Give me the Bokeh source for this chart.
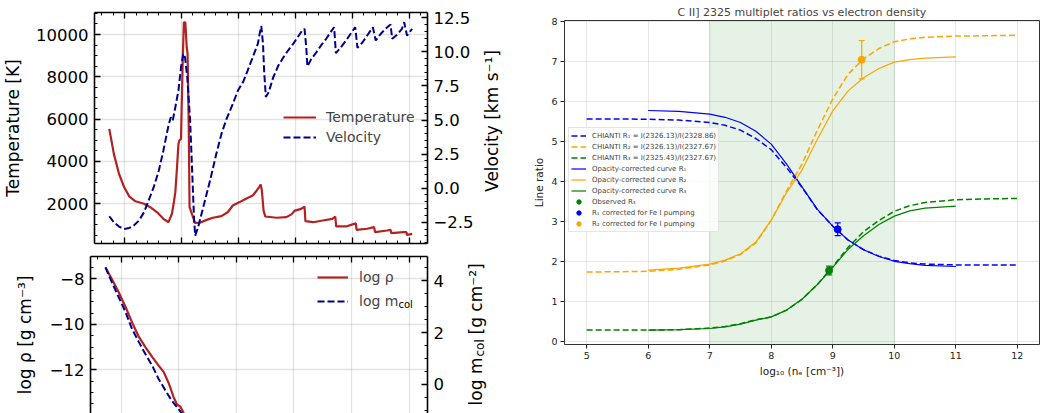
import math
from bokeh.plotting import figure
from bokeh.layouts import row, column
from bokeh.models import (Range1d, LinearAxis, Legend, LegendItem, SingleIntervalTicker,
                          CustomJSTickFormatter, BoxAnnotation, Whisker, TeeHead,
                          ColumnDataSource, Label)
from bokeh.embed import file_html
from bokeh.resources import INLINE

FONT = "DejaVu Sans"

# ---------------- left panels: atmosphere structure ----------------
temp_x = [-0.27, -0.19, -0.10, -0.01, 0.08, 0.19, 0.34, 0.45, 0.57, 0.68, 0.77, 0.83, 0.86, 0.89,
          0.92, 0.945, 0.96, 0.99, 1.00, 1.02, 1.04, 1.065, 1.09, 1.105, 1.125, 1.14, 1.18, 1.235,
          1.32, 1.44, 1.55, 1.70, 1.81, 1.90, 2.02, 2.13, 2.25, 2.32, 2.36, 2.39, 2.41, 2.44, 2.47,
          2.67, 2.84, 2.93, 2.99, 3.10, 3.16, 3.175, 3.31, 3.48, 3.65, 3.70, 3.715, 3.89, 4.03,
          4.06, 4.075, 4.26, 4.38, 4.40, 4.61, 4.67, 4.685, 4.90, 4.95, 4.96, 5.05]
temp_K = [5540, 4360, 3420, 2790, 2350, 2120, 2000, 1840, 1600, 1290, 1130, 1530, 2000, 2550,
          3730, 4830, 4990, 5070, 6410, 8770, 10580, 10580, 9400, 9090, 5780, 1840, 1530, 1100,
          1100, 1240, 1340, 1420, 1600, 1920, 2080, 2240, 2390, 2630, 2780, 2910, 2630, 1680, 1400,
          1340, 1370, 1500, 1680, 1760, 1870, 1180, 1130, 1210, 1290, 1400, 930, 930, 1050,
          1085, 770, 820, 900, 660, 740, 770, 610, 660, 660, 530, 580]

vel_x = [-0.27, -0.19, -0.10, -0.01, 0.08, 0.16, 0.25, 0.34, 0.42, 0.51, 0.60, 0.68, 0.77, 0.81,
         0.845, 0.89, 0.945, 0.99, 1.03, 1.06, 1.10, 1.15, 1.19, 1.22, 1.24, 1.29, 1.38, 1.50,
         1.61, 1.70, 1.79, 1.90, 1.99, 2.08, 2.16, 2.25, 2.34, 2.37, 2.40, 2.43, 2.45, 2.48, 2.53,
         2.61, 2.70, 2.79, 2.87, 2.96, 3.02, 3.08, 3.12, 3.16, 3.19, 3.21, 3.28, 3.37, 3.45, 3.54,
         3.63, 3.68, 3.71, 3.80, 3.89, 3.97, 4.05, 4.09, 4.18, 4.26, 4.36, 4.41, 4.50, 4.58, 4.67,
         4.70, 4.79, 4.87, 4.91, 4.96, 5.05]
vel_kms = [-2.06, -2.50, -2.82, -2.99, -2.92, -2.74, -2.38, -1.77, -0.91, 0.07, 1.29, 2.76, 4.60,
           5.21, 4.97, 5.94, 7.17, 8.88, 9.86, 9.61, 8.14, 4.96, 0.80, -2.38, -3.48, -2.87, -1.40,
           0.56, 2.52, 3.98, 5.09, 6.19, 7.17, 7.78, 8.63, 9.61, 10.60, 11.30, 11.90, 10.60, 8.60,
           6.70, 7.04, 8.14, 9.00, 9.61, 10.10, 10.59, 10.96, 11.33, 11.57, 11.69, 10.35, 8.93,
           9.49, 9.98, 10.47, 10.96, 11.52, 11.81, 9.91, 10.35, 10.84, 11.33, 11.81, 10.30, 10.71,
           11.20, 11.81, 10.84, 11.33, 11.69, 12.01, 10.96, 11.28, 11.69, 12.18, 11.20, 11.69]

rho_x = [-0.27, -0.16, -0.04, 0.08, 0.19, 0.31, 0.42, 0.54, 0.65, 0.74, 0.83, 0.91, 0.97, 1.03, 1.09]
log_rho = [-7.49, -8.00, -8.58, -9.24, -9.90, -10.55, -10.99, -11.43, -11.80, -12.09, -12.60,
           -13.18, -13.52, -13.62, -13.91]
mcol_x = [-0.27, -0.16, -0.04, 0.08, 0.19, 0.31, 0.42, 0.54, 0.65, 0.77, 0.88, 0.97, 1.06]
log_mcol = [4.51, 3.94, 3.36, 2.78, 2.14, 1.63, 1.18, 0.73, 0.22, -0.23, -0.62, -0.87, -1.13]

# ---------------- right panel: C II] ratios ----------------
ne_chianti = [5.0, 5.5, 6.0, 6.5, 7.0, 7.25, 7.5, 7.75, 8.0, 8.25, 8.5, 8.75, 9.0, 9.25, 9.5,
              9.75, 10.0, 10.25, 10.5, 11.0, 11.5, 12.0]
r1_chianti = [5.56, 5.56, 5.55, 5.53, 5.47, 5.40, 5.28, 5.07, 4.79, 4.34, 3.85, 3.29, 2.88, 2.53,
              2.29, 2.13, 2.02, 1.96, 1.93, 1.91, 1.91, 1.91]
r2_chianti = [1.73, 1.74, 1.75, 1.80, 1.91, 2.01, 2.17, 2.46, 3.03, 3.76, 4.43, 5.28, 6.06, 6.68,
              7.06, 7.32, 7.49, 7.56, 7.60, 7.63, 7.64, 7.65]
r3_chianti = [0.28, 0.28, 0.28, 0.29, 0.33, 0.37, 0.44, 0.54, 0.61, 0.78, 1.05, 1.42, 1.87, 2.35,
              2.74, 3.02, 3.25, 3.39, 3.47, 3.54, 3.56, 3.57]

ne_corr = [6.0, 6.5, 7.0, 7.25, 7.5, 7.75, 8.0, 8.25, 8.5, 8.75, 9.0, 9.25, 9.5, 9.75, 10.0,
           10.25, 10.5, 11.0]
r1_corr = [5.77, 5.75, 5.68, 5.60, 5.47, 5.25, 4.93, 4.43, 3.86, 3.30, 2.88, 2.53, 2.29, 2.12,
           2.00, 1.94, 1.90, 1.87]
r2_corr = [1.78, 1.83, 1.93, 2.03, 2.19, 2.48, 3.03, 3.72, 4.28, 5.05, 5.76, 6.26, 6.59, 6.82,
           6.98, 7.04, 7.08, 7.11]
r3_corr = [0.28, 0.29, 0.32, 0.36, 0.43, 0.53, 0.61, 0.78, 1.05, 1.42, 1.85, 2.30, 2.64, 2.92,
           3.13, 3.26, 3.33, 3.38]

obs_names = ["Observed R₃", "R₁ corrected for Fe I pumping", "R₂ corrected for Fe I pumping"]
obs_ne = [8.94, 9.08, 9.47]
obs_ratio = [1.77, 2.80, 7.04]
obs_err = [0.11, 0.16, 0.48]
obs_colors = ["green", "blue", "orange"]

chianti_names = ["CHIANTI R₁ = I(2326.13)/I(2328.86)",
                 "CHIANTI R₂ = I(2326.13)/I(2327.67)",
                 "CHIANTI R₃ = I(2325.43)/I(2327.67)"]
corr_names = ["Opacity-corrected curve R₁", "Opacity-corrected curve R₂", "Opacity-corrected curve R₃"]

x_grid_step = 1
density_band = (7, 10)

MINUS_FMT0 = CustomJSTickFormatter(code=r"return tick.toFixed(0).replace('-', '\u2212');")
MINUS_FMT1 = CustomJSTickFormatter(code=r"return tick.toFixed(1).replace('-', '\u2212');")


def style_in(ax, interval, minor):
    t = SingleIntervalTicker(interval=interval, num_minor_ticks=minor)
    ax.ticker = t
    ax.major_tick_in = 6
    ax.major_tick_out = 0
    ax.minor_tick_in = 3
    ax.minor_tick_out = 0
    ax.axis_line_color = "black"
    ax.axis_line_width = 1.6
    ax.major_tick_line_color = "black"
    ax.major_tick_line_width = 1.3
    ax.minor_tick_line_color = "black"
    ax.minor_tick_line_width = 1
    ax.major_label_text_font = FONT
    ax.major_label_text_font_size = "16.5px"
    ax.major_label_text_color = "black"
    ax.major_label_standoff = 6
    ax.axis_label_text_font = FONT
    ax.axis_label_text_font_size = "17px"
    ax.axis_label_text_font_style = "normal"
    ax.axis_label_text_color = "black"
    return t


def hide_labels(ax):
    ax.formatter = CustomJSTickFormatter(code="return '';")
    ax.major_label_text_font_size = "1px"
    ax.major_label_standoff = 0


def label_strip(width, height):
    """Blank strip figure whose frame fills the canvas; holds a rotated axis title."""
    f = figure(width=width, height=height, x_range=Range1d(0, 1), y_range=Range1d(0, 1),
               x_axis_location=None, y_axis_location=None, output_backend="svg",
               toolbar_location=None, min_border_left=0, min_border_right=0,
               min_border_top=0, min_border_bottom=0)
    f.outline_line_color = None
    f.xgrid.visible = False
    f.ygrid.visible = False
    return f


def vlabel(p, x, y, text, size="17px", align="center"):
    """Rotated (bottom-to-top) text; x, y in px from the frame's bottom-left corner."""
    p.add_layout(Label(x=x, y=y, x_units="screen", y_units="screen", text=text,
                       angle=math.pi / 2, text_align=align, text_baseline="middle",
                       text_font=FONT, text_font_size=size, text_color="black"))


def grid_style(p):
    for g in (p.xgrid, p.ygrid):
        g.grid_line_color = "#b0b0b0"
        g.grid_line_alpha = 0.35
        g.grid_line_width = 1.3


# ---------- top-left ----------
p1 = figure(width=477, height=250, x_range=Range1d(-0.53, 5.32), y_range=Range1d(124, 11040),
            output_backend="svg", toolbar_location=None,
            min_border_left=90, min_border_right=50, min_border_top=12, min_border_bottom=7)
p1.outline_line_color = None
p1.extra_y_ranges = {"vel": Range1d(-4.06, 12.89)}

tx = style_in(p1.xaxis[0], x_grid_step, 5)
hide_labels(p1.xaxis[0])
ax_top = LinearAxis()
style_in(ax_top, x_grid_step, 5)
hide_labels(ax_top)
p1.add_layout(ax_top, "above")

ty = style_in(p1.yaxis[0], 2000, 4)
p1.yaxis[0].formatter = CustomJSTickFormatter(code="return tick.toFixed(0);")
p1.yaxis[0].axis_label = "Temperature [K]"
p1.yaxis[0].axis_label_standoff = 10

ax_v = LinearAxis(y_range_name="vel")
style_in(ax_v, 2.5, 5)
ax_v.formatter = MINUS_FMT1
p1.add_layout(ax_v, "right")

grid_style(p1)
p1.xgrid.ticker = tx
p1.ygrid.ticker = ty

r_t = p1.line(temp_x, temp_K, line_color="#b22222", line_width=2.2)
r_v = p1.line(vel_x, vel_kms, y_range_name="vel", line_color="#00008b", line_width=2,
              line_dash="7 3")
leg1 = Legend(items=[LegendItem(label="Temperature", renderers=[r_t]),
                     LegendItem(label="Velocity", renderers=[r_v])],
              location=(189, 96), label_text_font=FONT, label_text_font_size="14px",
              glyph_width=33, glyph_height=20, label_height=20, label_standoff=10,
              padding=0, spacing=0, margin=0, border_line_color=None,
              background_fill_alpha=0)
p1.add_layout(leg1)

lab1 = label_strip(53, 250)
vlabel(lab1, 14.5, 122.5, "Velocity [km s⁻¹]")

# ---------- bottom-left ----------
p2 = figure(width=457, height=163, x_range=p1.x_range, y_range=Range1d(-13.92, -7.01),
            x_axis_location="above", output_backend="svg", toolbar_location=None,
            min_border_left=90, min_border_right=30, min_border_top=6, min_border_bottom=0)
p2.outline_line_color = None
p2.extra_y_ranges = {"m": Range1d(-1.12, 4.93)}

tx2 = style_in(p2.xaxis[0], x_grid_step, 5)
hide_labels(p2.xaxis[0])
ty2 = style_in(p2.yaxis[0], 2, 4)
p2.yaxis[0].formatter = MINUS_FMT0
p2.yaxis[0].axis_label = "log ρ [g cm⁻³]"
p2.yaxis[0].axis_label_standoff = 12

ax_m = LinearAxis(y_range_name="m")
style_in(ax_m, 2, 4)
ax_m.formatter = MINUS_FMT0
p2.add_layout(ax_m, "right")

grid_style(p2)
p2.xgrid.ticker = tx2
p2.ygrid.ticker = ty2

r_rho = p2.line(rho_x, log_rho, line_color="#b22222", line_width=2.2)
r_m = p2.line(mcol_x, log_mcol, y_range_name="m", line_color="#00008b", line_width=2,
              line_dash="7 3")
leg2 = Legend(items=[LegendItem(label="log ρ", renderers=[r_rho]),
                     LegendItem(label="log m", renderers=[r_m])],
              location=(227, 100), label_text_font=FONT, label_text_font_size="14px",
              glyph_width=31, glyph_height=24, label_height=24, label_standoff=11,
              padding=0, spacing=0, margin=0, border_line_color=None,
              background_fill_alpha=0)
p2.add_layout(leg2)
p2.add_layout(Label(x=308, y=104, x_units="screen", y_units="screen", text="col",
                    text_font=FONT, text_font_size="10px", text_color="black"))

lab2 = label_strip(73, 163)
# "log m_col [g cm^-2]" built from three rotated pieces (subscript "col")
vlabel(lab2, 18, 56, "log m", align="right")
vlabel(lab2, 22, 57, "col", size="12px", align="left")
vlabel(lab2, 18, 79, "[g cm⁻²]", align="left")

# ---------- right ----------
p3 = figure(width=516, height=413, x_range=Range1d(4.64, 12.36), y_range=Range1d(-0.08, 8.02),
            output_backend="svg", toolbar_location=None,
            min_border_left=31, min_border_right=7, min_border_top=20, min_border_bottom=69,
            title="C II] 2325 multiplet ratios vs electron density")
p3.title.align = "center"
p3.title.text_font = FONT
p3.title.text_font_size = "11px"
p3.title.text_font_style = "normal"
p3.title.standoff = 4
p3.outline_line_color = "#333333"
p3.outline_line_width = 1
p3.outline_line_alpha = 1

for ax in (p3.xaxis[0], p3.yaxis[0]):
    t = SingleIntervalTicker(interval=1, num_minor_ticks=0)
    ax.ticker = t
    ax.major_tick_out = 4
    ax.major_tick_in = 0
    ax.minor_tick_line_color = None
    ax.axis_line_color = None
    ax.major_tick_line_color = "#222222"
    ax.major_tick_line_width = 1
    ax.major_label_text_font = FONT
    ax.major_label_text_font_size = "9.5px"
    ax.major_label_text_color = "#222222"
    ax.major_label_standoff = 3
    ax.axis_label_text_font = FONT
    ax.axis_label_text_font_size = "10.5px"
    ax.axis_label_text_font_style = "normal"
    ax.axis_label_text_color = "#222222"
    ax.axis_label_standoff = 3
p3.xaxis[0].axis_label = "log₁₀ (nₑ [cm⁻³])"
p3.yaxis[0].axis_label = "Line ratio"
p3.xgrid.ticker = p3.xaxis[0].ticker
p3.ygrid.ticker = p3.yaxis[0].ticker
for g in (p3.xgrid, p3.ygrid):
    g.grid_line_color = "#b0b0b0"
    g.grid_line_alpha = 0.3
    g.grid_line_width = 1

p3.add_layout(BoxAnnotation(left=density_band[0], right=density_band[1], fill_color="green",
                            fill_alpha=0.1, line_color="green", line_alpha=0.12,
                            level="underlay"))

line_colors = ["blue", "orange", "green"]
items = []
ch_r = []
for ys, c in zip([r1_chianti, r2_chianti, r3_chianti], line_colors):
    ch_r.append(p3.line(ne_chianti, ys, line_color=c, line_width=1.5, line_dash="6 3"))
co_r = []
for ys, c in zip([r1_corr, r2_corr, r3_corr], line_colors):
    co_r.append(p3.line(ne_corr, ys, line_color=c, line_width=1.2))
pt_r = []
for xv, yv, ev, c in zip(obs_ne, obs_ratio, obs_err, obs_colors):
    src = ColumnDataSource(dict(x=[xv], lo=[yv - ev], hi=[yv + ev]))
    p3.add_layout(Whisker(source=src, base="x", lower="lo", upper="hi", line_color=c,
                          line_width=1.2,
                          upper_head=TeeHead(size=6, line_color=c, line_width=1.2),
                          lower_head=TeeHead(size=6, line_color=c, line_width=1.2)))
    pt_r.append(p3.scatter([xv], [yv], marker="circle", size=7, fill_color=c, line_color=c))

for n, r in zip(chianti_names, ch_r):
    items.append(LegendItem(label=n, renderers=[r]))
for n, r in zip(corr_names, co_r):
    items.append(LegendItem(label=n, renderers=[r]))
for n, r in zip(obs_names, pt_r):
    items.append(LegendItem(label=n, renderers=[r]))

leg3 = Legend(items=items, location=(4, 112), label_text_font=FONT, label_text_font_size="7px",
              glyph_width=15, glyph_height=11, label_height=11, label_standoff=6,
              padding=2, spacing=0, margin=0, border_line_color="#cccccc",
              border_line_width=1, background_fill_color="white", background_fill_alpha=0.8)
p3.add_layout(leg3)

layout = row(column(row(p1, lab1), row(p2, lab2)), p3)
open("out.html", "w").write(file_html(layout, INLINE))
